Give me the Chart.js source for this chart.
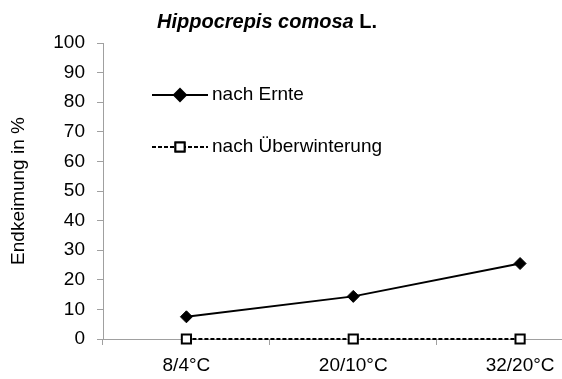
<!DOCTYPE html>
<html>
<head>
  <meta charset="utf-8">
  <title>Hippocrepis comosa L.</title>
  <script src="https://cdn.jsdelivr.net/npm/chart.js"></script>
  <style>
    body {
      margin: 0;
      overflow: hidden;
      background: #fff;
    }
    #wrap {
      width: 612px;
      height: 379px;
    }
  </style>
</head>
<body>

  <div id="wrap"><canvas id="chart" width="612" height="379"></canvas></div>

  <script>
    const categories = ['8/4°C', '20/10°C', '32/20°C'];
    const nachErnte = [7.5, 14.4, 25.5];
    const nachUeberwinterung = [0, 0, 0];
    const seriesNames = ['nach Ernte', 'nach Überwinterung'];
    const yTicks = [0, 10, 20, 30, 40, 50, 60, 70, 80, 90, 100];

    const FONT = "'Liberation Sans', Arial, sans-serif";
    const AXIS = '#a0a0a0';

    // title with italic species name and plain "L."
    const titlePlugin = {
      id: 'speciesTitle',
      afterDraw(chart) {
        const ctx = chart.ctx;
        const a = 'Hippocrepis comosa';
        const b = ' L.';
        ctx.save();
        ctx.fillStyle = '#000';
        ctx.textBaseline = 'alphabetic';
        ctx.font = 'italic bold 20px ' + FONT;
        const wa = ctx.measureText(a).width;
        ctx.font = 'bold 20px ' + FONT;
        const wb = ctx.measureText(b).width;
        let x = 267 - (wa + wb) / 2;
        ctx.font = 'italic bold 20px ' + FONT;
        ctx.fillText(a, x, 28);
        ctx.font = 'bold 20px ' + FONT;
        ctx.fillText(b, x + wa, 28);
        ctx.restore();
      }
    };

    // legend drawn inside the plot, upper left
    const legendPlugin = {
      id: 'innerLegend',
      afterDatasetsDraw(chart) {
        const ctx = chart.ctx;
        const rows = [95, 147];
        ctx.save();
        chart.data.datasets.forEach((ds, i) => {
          const y = rows[i];
          ctx.strokeStyle = ds.borderColor;
          ctx.lineWidth = ds.borderWidth;
          ctx.setLineDash(ds.borderDash || []);
          ctx.beginPath();
          ctx.moveTo(152, y);
          ctx.lineTo(208, y);
          ctx.stroke();
          ctx.setLineDash([]);
          Chart.helpers.drawPoint(ctx, {
            pointStyle: ds.pointStyle,
            radius: ds.pointRadius,
            borderWidth: ds.pointBorderWidth,
            rotation: 0
          }, 180, y);
          ctx.fillStyle = ds.pointBackgroundColor;
          ctx.strokeStyle = ds.pointBorderColor;
          ctx.lineWidth = ds.pointBorderWidth;
          ctx.fill();
          ctx.stroke();
          ctx.fillStyle = '#000';
          ctx.font = '19px ' + FONT;
          ctx.textBaseline = 'middle';
          ctx.fillText(ds.label, 212, y);
        });
        ctx.restore();
      }
    };

    new Chart(document.getElementById('chart'), {
      type: 'line',
      data: {
        labels: categories,
        datasets: [{
          label: seriesNames[0],
          data: nachErnte,
          borderColor: '#000',
          borderWidth: 2,
          pointStyle: 'rectRot',
          pointRadius: 6,
          pointBackgroundColor: '#000',
          pointBorderColor: '#000',
          pointBorderWidth: 1,
          clip: false
        }, {
          label: seriesNames[1],
          data: nachUeberwinterung,
          borderColor: '#000',
          borderWidth: 1.8,
          borderDash: [4, 2],
          pointStyle: 'rect',
          pointRadius: 6.5,
          pointBackgroundColor: '#fff',
          pointBorderColor: '#000',
          pointBorderWidth: 2,
          clip: false
        }]
      },
      options: {
        responsive: false,
        animation: false,
        events: [],
        layout: { padding: { top: 43, right: 7, left: 0, bottom: 0 } },
        plugins: {
          legend: { display: false },
          title: { display: false },
          tooltip: { enabled: false }
        },
        scales: {
          x: {
            offset: true,
            grid: { offset: true, drawOnChartArea: false, color: AXIS, tickLength: 6 },
            border: { color: AXIS },
            ticks: { color: '#000', font: { family: FONT, size: 19 }, padding: 9, maxRotation: 0 },
            afterFit(scale) { scale.height = 40; }
          },
          y: {
            min: 0,
            max: 100,
            afterBuildTicks(scale) { scale.ticks = yTicks.map(v => ({ value: v })); },
            grid: { drawOnChartArea: false, color: AXIS, tickLength: 6 },
            border: { color: AXIS },
            ticks: { color: '#000', font: { family: FONT, size: 19 }, padding: 12 },
            title: {
              display: true,
              text: 'Endkeimung in %',
              color: '#000',
              font: { family: FONT, size: 19 },
              padding: { top: 7, bottom: 0 }
            },
            afterFit(scale) { scale.width = 103; }
          }
        }
      },
      plugins: [titlePlugin, legendPlugin]
    });
  </script>

</body>
</html>
